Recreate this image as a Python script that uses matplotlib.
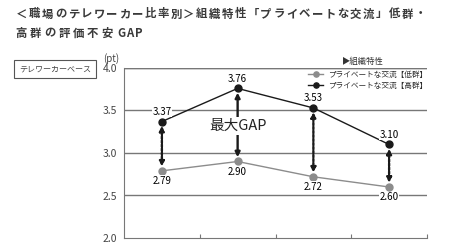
import numpy as np
import matplotlib
matplotlib.use("Agg")
import matplotlib.pyplot as plt

plt.rcParams['font.family'] = ['Noto Sans CJK JP', 'DejaVu Sans']

# data
groups = [0, 1, 2, 3]
low = [2.79, 2.90, 2.72, 2.60]
high = [3.37, 3.76, 3.53, 3.10]
yticks = [2.0, 2.5, 3.0, 3.5, 4.0]
title_lines = ["＜職場のテレワーカー比率別＞組織特性「プライベートな交流」低群・",
               "高群の評価不安GAP"]
legend_title = "▶組織特性"
labels = ["プライベートな交流【低群】", "プライベートな交流【高群】"]
gap_text = "最大GAP"

W, H = 468, 245
fig = plt.figure(figsize=(W / 100, H / 100), dpi=100)
ax = fig.add_axes([124 / W, 1 - 238 / H, 303 / W, 170 / H])

grid_c = "#777777"
for y in yticks[1:]:
    ax.axhline(y, color=grid_c, lw=1.0, zorder=1)

x = np.array(groups)
ax.plot(x, low, color="#8c8c8c", lw=1.0, marker="o", ms=5, zorder=3, label=labels[0])
ax.plot(x, high, color="#1a1a1a", lw=1.0, marker="o", ms=5, zorder=3, label=labels[1])

ax.set_xlim(-0.5, 3.5)
ax.set_ylim(2.0, 4.0)
ax.set_yticks(yticks)
ax.set_yticklabels(["%.1f" % v for v in yticks], fontsize=7.5, color="#444444")
ax.set_xticks([0.5, 1.5, 2.5, 3.5])
ax.set_xticklabels([])
ax.tick_params(axis="x", direction="in", length=3, color=grid_c)
ax.tick_params(axis="y", length=0, pad=5)
for s in ["top", "right"]:
    ax.spines[s].set_visible(False)
for s in ["left", "bottom"]:
    ax.spines[s].set_color(grid_c)

bb = dict(facecolor="white", edgecolor="none", pad=0.5)
# value labels
for i in range(4):
    ax.text(x[i], high[i] + 0.115, "%.2f" % high[i], ha="center", va="center", fontsize=7,
            bbox=bb, zorder=4)
    ax.text(x[i], low[i] - 0.12, "%.2f" % low[i], ha="center", va="center", fontsize=7,
            bbox=bb, zorder=4)

# gap arrows
for i in range(4):
    ls = "-" if i == 1 else (0, (1, 0.7))
    ax.annotate("", xy=(x[i], low[i] + 0.05), xytext=(x[i], high[i] - 0.05),
                arrowprops=dict(arrowstyle="<|-|>", color="#1a1a1a", lw=1.7, ls=ls,
                                mutation_scale=7, shrinkA=0, shrinkB=0), zorder=2)
ax.text(x[1], 3.32, gap_text, ha="center", va="center", fontsize=10.5, color="#222222",
        bbox=dict(facecolor="white", edgecolor="none", pad=1.5), zorder=5)

# top line
ax.axhline(4.0, color=grid_c, lw=1.0, zorder=1)

# legend
leg = ax.legend(loc="upper right", bbox_to_anchor=(1.0, 0.985), frameon=False, fontsize=5.5,
                handlelength=2.0, handletextpad=0.6, labelspacing=0.45, borderpad=0,
                borderaxespad=0, markerscale=0.75)
for t in leg.get_texts():
    t.set_color("#2a2a2a")
fig.text(342 / W, 1 - 61 / H, legend_title, fontsize=6, color="#333333", ha="left", va="center")

# title, one character per cell so the letter spacing is even
def put_line(line, x_first, pitch, yc):
    pos = x_first
    for ch in line:
        step = pitch if ord(ch) > 0x2000 else pitch * 0.62
        fig.text(pos / W, 1 - yc / H, ch, fontsize=8.2, fontweight="bold", color="#3a3a3a",
                 ha="center", va="center")
        pos += step

put_line(title_lines[0], 22, (420 - 22) / (len(title_lines[0]) - 1), 14)
put_line(title_lines[1], 21, 14.3, 33)

fig.text(103 / W, 1 - 59 / H, "(pt)", fontsize=7, color="#444444", ha="left", va="center")
fig.text(55 / W, 1 - 69 / H, "テレワーカーベース", fontsize=5.8, color="#444444", ha="center",
         va="center",
         bbox=dict(facecolor="white", edgecolor="#555555", lw=0.8, boxstyle="square,pad=0.6"))

fig.savefig("out.png", dpi=100)
